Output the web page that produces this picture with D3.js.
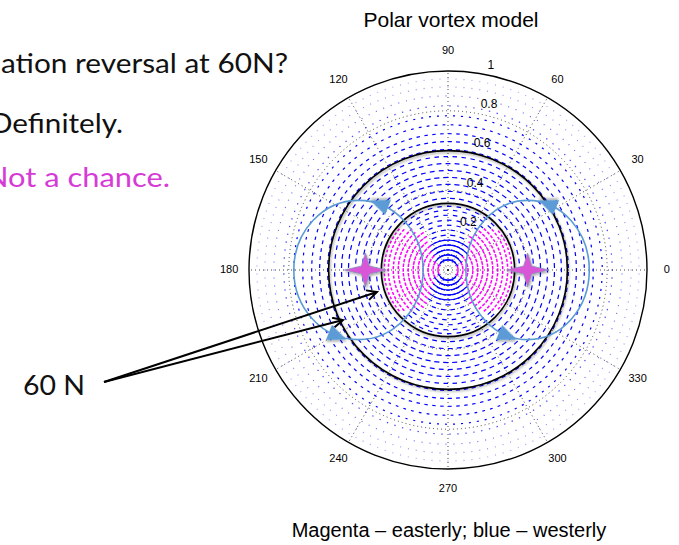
<!DOCTYPE html>
<html>
<head>
<meta charset="utf-8">
<script src="https://cdn.jsdelivr.net/npm/d3@7"></script>
<style>
  body { margin: 0; background: #fff; }
  svg { display: block; }
</style>
</head>
<body>
<script>
// radii of the wind rings, as a fraction of the plot radius
var ringR = [0.05, 0.075, 0.10, 0.125, 0.15, 0.175, 0.20, 0.225, 0.25, 0.275, 0.30, 0.32,
             0.36, 0.395, 0.43, 0.465, 0.50, 0.535, 0.57,
             0.605, 0.645, 0.685, 0.73, 0.775, 0.825, 0.875, 0.92, 0.96];
// westerly wind speed on each ring (blue)
var westSpeed = [26, 26, 25, 23, 19, 15, 13, 13, 13, 13, 13, 13,
                 14, 14, 15, 15, 14, 14, 13,
                 12, 11, 10, 8, 6, 4, 3, 2, 1.5];
// easterly wind speed on each ring (magenta)
var eastSpeed = [12, 12, 11, 11, 11, 11, 10, 10, 10, 9, 9, 8,
                 0, 0, 0, 0, 0, 0, 0,
                 0, 0, 0, 0, 0, 0, 0, 0, 0];
// half width (degrees from the 0-180 axis) of the easterly sector on each ring
var eastHalfAngle = [36, 40, 44, 48, 52, 55, 56, 55, 52, 49, 45, 40,
                     0, 0, 0, 0, 0, 0, 0,
                     0, 0, 0, 0, 0, 0, 0, 0, 0];

var angleTicks = [0, 30, 60, 90, 120, 150, 180, 210, 240, 270, 300, 330];
var radialTicks = [0.2, 0.4, 0.6, 0.8, 1];
var latCircles = [0.335, 0.6];        // 60N rings drawn in black

// the two circulation cells and their stars
var cellR = [0.45, 0.40];
var cellA = [180, 0];
var cellRx = [0.325, 0.31];
var cellRy = [0.35, 0.35];
var starR = [0.415, 0.40];
var starA = [180, 0];

var width = 679, height = 545;
var cx = 448, cy = 270, R = 199;

var svg = d3.select('body').append('svg')
  .attr('width', width)
  .attr('height', height);

var defs = svg.append('defs');
var shadow = defs.append('filter').attr('id', 'shadow')
  .attr('x', '-30%').attr('y', '-30%').attr('width', '160%').attr('height', '160%');
shadow.append('feDropShadow')
  .attr('dx', 1).attr('dy', 1.5).attr('stdDeviation', 1.2)
  .attr('flood-color', '#000').attr('flood-opacity', 0.35);

defs.append('clipPath').attr('id', 'disc')
  .append('circle').attr('cx', cx).attr('cy', cy).attr('r', R);

defs.append('marker')
  .attr('id', 'head')
  .attr('markerUnits', 'userSpaceOnUse')
  .attr('markerWidth', 14).attr('markerHeight', 14)
  .attr('refX', 11).attr('refY', 6)
  .attr('orient', 'auto')
  .append('path')
  .attr('d', 'M1,1 L11,6 L1,11')
  .attr('fill', 'none')
  .attr('stroke', '#000')
  .attr('stroke-width', 2);

var rScale = d3.scaleLinear().domain([0, 1]).range([0, R]);
var lenScale = d3.scaleLinear().domain([0, 26]).range([0, 9]);
var alphaScale = d3.scaleLinear().domain([1, 6]).range([0.3, 1]).clamp(true);

function px(r, deg) { return cx + rScale(r) * Math.cos(deg * Math.PI / 180); }
function py(r, deg) { return cy - rScale(r) * Math.sin(deg * Math.PI / 180); }

var plot = svg.append('g');

// dotted polar grid
plot.selectAll('circle.grid')
  .data(radialTicks.slice(0, -1))
  .enter().append('circle')
  .attr('class', 'grid')
  .attr('cx', cx).attr('cy', cy)
  .attr('r', function(d) { return rScale(d); })
  .attr('fill', 'none')
  .attr('stroke', '#333')
  .attr('stroke-width', 0.9)
  .attr('stroke-dasharray', '1,3');

plot.selectAll('line.spoke')
  .data(angleTicks)
  .enter().append('line')
  .attr('class', 'spoke')
  .attr('x1', cx).attr('y1', cy)
  .attr('x2', function(d) { return px(1, d); })
  .attr('y2', function(d) { return py(1, d); })
  .attr('stroke', '#333')
  .attr('stroke-width', 0.9)
  .attr('stroke-dasharray', '1,3');

// wind vectors along each ring
var vecs = [];
ringR.forEach(function(r, i) {
  var rp = rScale(r);
  var inner = r < 0.34;
  var pitch = inner ? 4.8 : (r < 0.6 ? 9 : 8);
  var n = Math.max(16, Math.round(2 * Math.PI * rp / pitch));
  for (var k = 0; k < n; k++) {
    var a = (k + (i % 2) * 0.5) * 360 / n;
    var m = a % 180;
    var off = Math.min(m, 180 - m);
    var east = off < eastHalfAngle[i];
    // westerly arrows away from the pole are sparser than the easterly ones
    if (inner && r > 0.16 && !east && k % 2 === 1) continue;
    var s = east ? eastSpeed[i] : westSpeed[i];
    vecs.push({ r: r, a: a, s: s, east: east });
  }
});

var vg = plot.append('g').attr('clip-path', 'url(#disc)');
vg.selectAll('line.vec')
  .data(vecs)
  .enter().append('line')
  .attr('class', 'vec')
  .each(function(d) {
    var L = Math.max(1, lenScale(d.s)) / 2;
    var x = px(d.r, d.a), y = py(d.r, d.a);
    var t = d.a * Math.PI / 180;
    var tx = -Math.sin(t), ty = -Math.cos(t);
    d3.select(this)
      .attr('x1', x - tx * L).attr('y1', y - ty * L)
      .attr('x2', x + tx * L).attr('y2', y + ty * L);
  })
  .attr('stroke', function(d) { return d.east ? '#ff00ff' : '#0000ff'; })
  .attr('stroke-opacity', function(d) { return alphaScale(d.s); })
  .attr('stroke-width', function(d) { return d.east ? 1.5 : 1.2; });

// outer frame
plot.append('circle')
  .attr('cx', cx).attr('cy', cy).attr('r', rScale(1))
  .attr('fill', 'none').attr('stroke', '#000').attr('stroke-width', 1.4);

// 60N rings
plot.selectAll('circle.lat')
  .data(latCircles)
  .enter().append('circle')
  .attr('class', 'lat')
  .attr('cx', cx).attr('cy', cy)
  .attr('r', function(d) { return rScale(d); })
  .attr('fill', 'none')
  .attr('stroke', '#000')
  .attr('stroke-width', 1.6)
  .attr('filter', 'url(#shadow)');

// circulation cells
var cells = cellR.map(function(r, i) {
  return { x: px(r, cellA[i]), y: py(r, cellA[i]), rx: rScale(cellRx[i]), ry: rScale(cellRy[i]) };
});

plot.selectAll('ellipse.cell')
  .data(cells)
  .enter().append('ellipse')
  .attr('class', 'cell')
  .attr('cx', function(d) { return d.x; })
  .attr('cy', function(d) { return d.y; })
  .attr('rx', function(d) { return d.rx; })
  .attr('ry', function(d) { return d.ry; })
  .attr('fill', 'none')
  .attr('stroke', '#5b9bd5')
  .attr('stroke-width', 1.6);

var heads = [];
cells.forEach(function(c) {
  [70, 250].forEach(function(t) {
    var tr = t * Math.PI / 180;
    heads.push({
      x: c.x + c.rx * Math.cos(tr),
      y: c.y - c.ry * Math.sin(tr),
      rot: Math.atan2(-c.ry * Math.cos(tr), -c.rx * Math.sin(tr)) * 180 / Math.PI
    });
  });
});

plot.selectAll('path.head')
  .data(heads)
  .enter().append('path')
  .attr('class', 'head')
  .attr('d', 'M11,0 L-8,-8 L-8,8 Z')
  .attr('transform', function(d) { return 'translate(' + d.x + ',' + d.y + ') rotate(' + d.rot + ')'; })
  .attr('fill', '#5b9bd5')
  .attr('filter', 'url(#shadow)');

// stars
var starPath = 'M-21,0 L-4,-4 L0,-17 L4,-4 L21,0 L4,4 L0,17 L-4,4 Z';
plot.selectAll('path.star')
  .data(starR)
  .enter().append('path')
  .attr('class', 'star')
  .attr('d', starPath)
  .attr('transform', function(d, i) { return 'translate(' + px(d, starA[i]) + ',' + py(d, starA[i]) + ')'; })
  .attr('fill', '#d957d9')
  .attr('stroke', '#8a94b8')
  .attr('stroke-width', 0.8)
  .attr('filter', 'url(#shadow)');

// angle labels
plot.selectAll('text.ang')
  .data(angleTicks)
  .enter().append('text')
  .attr('class', 'ang')
  .attr('x', function(d) { return px(1.1, d); })
  .attr('y', function(d) { return py(1.1, d); })
  .attr('text-anchor', 'middle')
  .attr('dominant-baseline', 'middle')
  .attr('font-family', 'Liberation Sans, Arial, sans-serif')
  .attr('font-size', 11)
  .text(function(d) { return d; });

// radial labels
plot.selectAll('text.rad')
  .data(radialTicks)
  .enter().append('text')
  .attr('class', 'rad')
  .attr('x', function(d) { return px(d, 80) + 5; })
  .attr('y', function(d) { return py(d, 80) - 5; })
  .attr('font-family', 'Liberation Sans, Arial, sans-serif')
  .attr('font-size', 12)
  .text(function(d) { return d; });

// title and caption
svg.append('text')
  .attr('x', 451).attr('y', 27)
  .attr('text-anchor', 'middle')
  .attr('font-family', 'Liberation Sans, Arial, sans-serif')
  .attr('font-size', 21)
  .text('Polar vortex model');

svg.append('text')
  .attr('x', 449).attr('y', 537)
  .attr('text-anchor', 'middle')
  .attr('font-family', 'Liberation Sans, Arial, sans-serif')
  .attr('font-size', 20)
  .text('Magenta \u2013 easterly; blue \u2013 westerly');

// slide text on the left (cut at the slide edge, as in the original)
var slide = svg.append('g').attr('font-family', 'Lato, Open Sans, sans-serif').attr('font-size', 27);
slide.append('text').attr('x', 1).attr('y', 73)
  .attr('textLength', 287).attr('lengthAdjust', 'spacingAndGlyphs')
  .attr('fill', '#111').text('ation reversal at 60N?');
slide.append('text').attr('x', -10).attr('y', 133)
  .attr('textLength', 133).attr('lengthAdjust', 'spacingAndGlyphs')
  .attr('fill', '#111').text('Definitely.');
slide.append('text').attr('x', -15).attr('y', 187)
  .attr('textLength', 185).attr('lengthAdjust', 'spacingAndGlyphs')
  .attr('fill', '#d63bd6').text('Not a chance.');
slide.append('text').attr('x', 23).attr('y', 395)
  .attr('textLength', 62).attr('lengthAdjust', 'spacingAndGlyphs')
  .attr('fill', '#111').text('60 N');

// arrows pointing at the 60N rings
var arrowEnds = [[377, 292], [343, 320]];
svg.selectAll('line.arrow')
  .data(arrowEnds)
  .enter().append('line')
  .attr('class', 'arrow')
  .attr('x1', 104).attr('y1', 382)
  .attr('x2', function(d) { return d[0]; })
  .attr('y2', function(d) { return d[1]; })
  .attr('stroke', '#000')
  .attr('stroke-width', 2)
  .attr('marker-end', 'url(#head)');
</script>
</body>
</html>
